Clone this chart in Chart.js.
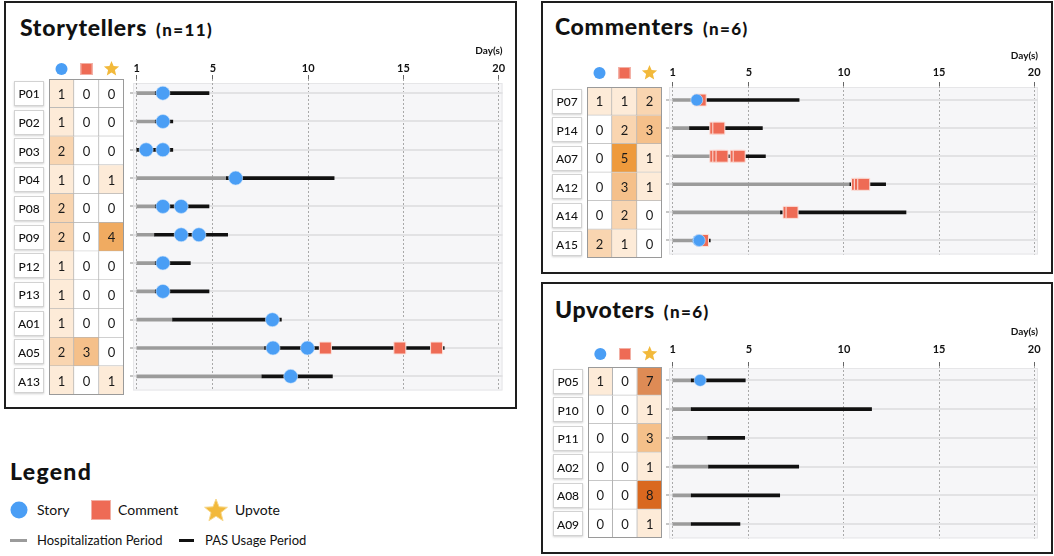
<!DOCTYPE html>
<html lang="en">
<head>
<meta charset="UTF-8">
<title>Storytellers / Commenters / Upvoters</title>
<script src="https://cdn.jsdelivr.net/npm/chart.js"></script>
<style>
  body { margin: 0; width: 1054px; height: 556px; position: relative; overflow: hidden; background: #fff;
         font-family: Lato, "Open Sans", sans-serif; color: #111; }
  .panel { position: absolute; border: 2px solid #1e1e1e; box-sizing: border-box; }
  .title { position: absolute; font-size: 23px; line-height: 23px; font-weight: 900; letter-spacing: 0.7px; white-space: nowrap; }
  .title span { font-size: 17px; font-weight: 900; letter-spacing: 1.4px; margin-left: 9px; }
  canvas { position: absolute; }
  .lg { position: absolute; height: 20px; line-height: 20px; white-space: nowrap; }
  .lg svg { position: absolute; }
</style>
</head>
<body>

<div class="panel" style="left:4px;top:1px;width:513px;height:408px"></div>
<div class="panel" style="left:541px;top:1px;width:512px;height:273px"></div>
<div class="panel" style="left:541px;top:282px;width:512px;height:272px"></div>

<div class="title" style="left:20px;top:16px">Storytellers<span>(n=11)</span></div>
<div class="title" style="left:555px;top:15px">Commenters<span>(n=6)</span></div>
<div class="title" style="left:555px;top:298px">Upvoters<span>(n=6)</span></div>

<canvas id="stTable" width="115" height="342" style="left:12px;top:56px"></canvas>
<canvas id="stTime" width="390" height="364" style="left:122px;top:36px"></canvas>
<canvas id="cmTable" width="117" height="201" style="left:548px;top:60px"></canvas>
<canvas id="cmTime" width="392" height="220" style="left:658px;top:44px"></canvas>
<canvas id="upTable" width="117" height="201" style="left:548px;top:340px"></canvas>
<canvas id="upTime" width="392" height="225" style="left:658px;top:320px"></canvas>

<!-- legend -->
<div class="title" style="left:10px;top:460px;letter-spacing:1.3px">Legend</div>
<div class="lg" style="left:10px;top:500px;font-size:14px">
  <svg width="18" height="18" style="left:0;top:1px"><circle cx="9" cy="9" r="8.5" fill="#4a9ef5"/></svg>
  <span style="position:absolute;left:27px">Story</span>
  <svg width="20" height="20" style="left:81px;top:0"><rect x="0.5" y="0.5" width="19" height="19" fill="#ee6b55" stroke="#f2b0a5"/></svg>
  <span style="position:absolute;left:108px">Comment</span>
  <svg width="26" height="26" style="left:193px;top:-3px"><polygon id="lgStar" fill="#f2b93b" stroke="#f7d88c" stroke-width="1"/></svg>
  <span style="position:absolute;left:225px">Upvote</span>
</div>
<div class="lg" style="left:10px;top:530px;font-size:13px">
  <div style="position:absolute;left:0;top:9px;width:17px;height:3px;background:#9b9b9b"></div>
  <span style="position:absolute;left:27px">Hospitalization Period</span>
  <div style="position:absolute;left:169px;top:9px;width:15px;height:3px;background:#111"></div>
  <span style="position:absolute;left:195px">PAS Usage Period</span>
</div>

<script>
  const FONT = 'Lato, "Open Sans", sans-serif';
  const BLUE = '#4a9ef5';
  const RED = '#ee6b55';
  const GOLD = '#f2b93b';

  const dayTicks = [1, 5, 10, 15, 20];

  // ---- Storytellers ----
  const stIds = ['P01', 'P02', 'P03', 'P04', 'P08', 'P09', 'P12', 'P13', 'A01', 'A05', 'A13'];
  const stStoryCount   = [1, 1, 2, 1, 2, 2, 1, 1, 1, 2, 1];
  const stCommentCount = [0, 0, 0, 0, 0, 0, 0, 0, 0, 3, 0];
  const stUpvoteCount  = [0, 0, 0, 1, 0, 4, 0, 0, 0, 0, 1];
  const stHosp = [[1, 1.97], [1, 1.97], null, [1, 5.7], [1, 1.97], [1, 1.93], [1, 1.97], [1, 1.97], [1, 2.88], [1, 7.71], [1, 7.57]];
  const stPas  = [[1.97, 4.79], [1.97, 2.89], [1, 2.89], [5.7, 11.36], [1.97, 4.79], [1.93, 5.77], [1.97, 3.81], [1.97, 4.79], [2.88, 8.59], [7.71, 17.14], [7.57, 11.27]];
  const stStories = [['P01', 2.37], ['P02', 2.37], ['P03', 1.49], ['P03', 2.37], ['P04', 6.19], ['P08', 2.37], ['P08', 3.33],
                     ['P09', 3.33], ['P09', 4.26], ['P12', 2.37], ['P13', 2.37], ['A01', 8.12], ['A05', 8.15], ['A05', 9.96], ['A13', 9.08]];
  const stComments = [['A05', 10.9], ['A05', 14.81], ['A05', 16.74]];

  // ---- Commenters ----
  const cmIds = ['P07', 'P14', 'A07', 'A12', 'A14', 'A15'];
  const cmStoryCount   = [1, 0, 0, 0, 0, 2];
  const cmCommentCount = [1, 2, 5, 3, 2, 1];
  const cmUpvoteCount  = [2, 3, 1, 1, 0, 0];
  const cmHosp = [[1, 2.05], [1, 1.88], [1, 2.93], [1, 10.31], [1, 6.66], [1, 2.05]];
  const cmPas  = [[2.05, 7.64], [1.88, 5.71], [2.93, 5.87], [10.31, 12.19], [6.66, 13.26], [2.05, 2.97]];
  const cmStories = [['P07', 2.26], ['A15', 2.35], ['A15', 2.39]];
  const cmComments = [['P07', 2.44], ['P14', 3.26], ['P14', 3.42], ['A07', 3.26], ['A07', 3.42], ['A07', 3.59], ['A07', 4.33], ['A07', 4.49],
                      ['A12', 10.71], ['A12', 10.86], ['A12', 11.04], ['A14', 7.11], ['A14', 7.27], ['A15', 2.56]];

  // ---- Upvoters ----
  const upIds = ['P05', 'P10', 'P11', 'A02', 'A08', 'A09'];
  const upStoryCount   = [1, 0, 0, 0, 0, 0];
  const upCommentCount = [0, 0, 0, 0, 0, 0];
  const upUpvoteCount  = [7, 1, 3, 1, 8, 1];
  const upHosp = [[1, 1.97], [1, 1.97], [1, 2.84], [1, 2.88], [1, 1.97], [1, 1.97]];
  const upPas  = [[1.97, 4.81], [1.97, 11.45], [2.84, 4.78], [2.88, 7.62], [1.97, 6.62], [1.97, 4.53]];
  const upStories = [['P05', 2.44]];
  const upComments = [];

  // heat colours for the count cells
  const heat = { 0: '#ffffff', 1: '#fdebd8', 2: '#f9d5b0', 3: '#f5c08a', 4: '#f0ab61', 5: '#ee9a3c', 6: '#e69145', 7: '#de8b55', 8: '#d9681f' };

  function starPath(ctx, cx, cy, R, r) {
    ctx.beginPath();
    for (let i = 0; i < 10; i++) {
      const a = -Math.PI / 2 + i * Math.PI / 5;
      const rad = i % 2 ? r : R;
      ctx.lineTo(cx + rad * Math.cos(a), cy + rad * Math.sin(a));
    }
    ctx.closePath();
  }

  // legend star
  (function () {
    const pts = [];
    for (let i = 0; i < 10; i++) {
      const a = -Math.PI / 2 + i * Math.PI / 5, rad = i % 2 ? 5.2 : 12;
      pts.push((13 + rad * Math.cos(a)).toFixed(2) + ',' + (14 + rad * Math.sin(a)).toFixed(2));
    }
    document.getElementById('lgStar').setAttribute('points', pts.join(' '));
  })();

  function tablePlugin(counts, headerDy) {
    return {
      id: 'tableDecor',
      afterDatasetsDraw(chart) {
        const { ctx, chartArea: ca, scales: { x, y } } = chart;
        ctx.save();
        // outer frame
        ctx.strokeStyle = '#9a9a9a';
        ctx.lineWidth = 1;
        ctx.strokeRect(ca.left + 0.5, ca.top + 0.5, ca.right - ca.left - 1, ca.bottom - ca.top - 1);
        // counts
        ctx.fillStyle = '#1a1a1a';
        ctx.font = '13px ' + FONT;
        ctx.textAlign = 'center';
        ctx.textBaseline = 'middle';
        chart.data.datasets.forEach((ds, di) => {
          chart.getDatasetMeta(di).data.forEach((bar, i) => {
            ctx.fillText(String(counts[di][i]), (bar.x + bar.base) / 2, bar.y + 1);
          });
        });
        // participant boxes
        ctx.font = '500 12px ' + FONT;
        chart.data.labels.forEach((id, i) => {
          const yc = y.getPixelForValue(i);
          const bx = ca.left - 35, by = Math.round(yc - 12.5);
          ctx.save();
          ctx.shadowColor = 'rgba(0,0,0,0.18)';
          ctx.shadowBlur = 2;
          ctx.shadowOffsetY = 1;
          ctx.fillStyle = '#fff';
          ctx.fillRect(bx, by, 30, 25);
          ctx.restore();
          ctx.strokeStyle = '#d2d2d2';
          ctx.strokeRect(bx + 0.5, by + 0.5, 29, 24);
          ctx.fillStyle = '#111';
          ctx.fillText(id, bx + 15, yc + 1);
        });
        // column header icons
        const hy = ca.top - headerDy;
        const c0 = x.getPixelForValue(0.5), c1 = x.getPixelForValue(1.5), c2 = x.getPixelForValue(2.5);
        ctx.fillStyle = BLUE;
        ctx.beginPath(); ctx.arc(c0, hy, 6, 0, Math.PI * 2); ctx.fill();
        ctx.fillStyle = RED;
        ctx.fillRect(c1 - 6, hy - 6, 12, 12);
        ctx.strokeStyle = '#f2b0a5';
        ctx.strokeRect(c1 - 5.5, hy - 5.5, 11, 11);
        ctx.fillStyle = GOLD;
        starPath(ctx, c2, hy, 8, 3.6);
        ctx.fill();
        ctx.restore();
      }
    };
  }

  const bgPlugin = {
    id: 'plotBg',
    beforeDraw(chart, args, opts) {
      const { ctx, chartArea: ca } = chart;
      ctx.save();
      ctx.fillStyle = '#f6f6f8';
      ctx.fillRect(ca.left, ca.top + opts.inset, ca.right - ca.left, ca.bottom - ca.top - opts.inset);
      ctx.strokeStyle = '#e6e6e8';
      ctx.strokeRect(ca.left + 0.5, ca.top + opts.inset + 0.5, ca.right - ca.left - 1, ca.bottom - ca.top - opts.inset - 1);
      ctx.restore();
    }
  };

  function buildPanel(key, ids, counts, hosp, pas, stories, comments, lay) {
    new Chart(document.getElementById(key + 'Table'), {
      type: 'bar',
      data: {
        labels: ids,
        datasets: counts.map(col => ({
          data: ids.map(() => 1),
          backgroundColor: col.map(v => heat[v]),
          borderColor: '#b4b4b4',
          borderWidth: { top: 0, left: 0, right: 1, bottom: 1 },
          borderSkipped: false,
          barPercentage: 1,
          categoryPercentage: 1
        }))
      },
      options: {
        indexAxis: 'y',
        responsive: false,
        animation: false,
        events: [],
        layout: { padding: lay.tablePad },
        plugins: { legend: { display: false }, tooltip: { enabled: false } },
        scales: {
          x: { stacked: true, min: 0, max: 3, display: false },
          y: { stacked: true, display: false }
        }
      },
      plugins: [tablePlugin(counts, lay.headerDy)]
    });

    new Chart(document.getElementById(key + 'Time'), {
      type: 'bar',
      data: {
        labels: ids,
        datasets: [
          { type: 'scatter', label: 'Story', data: stories.map(([id, d]) => ({ x: d, y: id })),
            pointStyle: 'circle', pointRadius: lay.dotR, backgroundColor: BLUE, borderColor: '#cfe4fb', borderWidth: 0.6, order: 0 },
          { type: 'scatter', label: 'Comment', data: comments.map(([id, d]) => ({ x: d, y: id })),
            pointStyle: 'rect', pointRadius: 8.5, backgroundColor: RED, borderColor: '#fbe3de', borderWidth: 1, order: 1 },
          { label: 'PAS Usage Period', data: pas, backgroundColor: '#111', barThickness: 3, grouped: false, order: 2 },
          { label: 'Hospitalization Period', data: hosp, backgroundColor: '#9b9b9b', barThickness: 3, grouped: false, order: 3 }
        ]
      },
      options: {
        indexAxis: 'y',
        responsive: false,
        animation: false,
        events: [],
        layout: { padding: lay.timePad },
        plugins: { legend: { display: false }, tooltip: { enabled: false }, plotBg: { inset: lay.bgInset } },
        scales: {
          x: {
            type: 'linear', position: 'top', min: 0.8, max: 20.2,
            afterBuildTicks: s => { s.ticks = dayTicks.map(v => ({ value: v })); },
            afterFit: s => { s.height = lay.axisH; },
            ticks: { font: { family: FONT, size: 11, weight: 'bold' }, color: '#111', padding: lay.tickPad, maxRotation: 0, autoSkip: false },
            grid: { color: '#a9a9a9', lineWidth: 1, drawTicks: true, tickLength: 4, tickColor: '#666', tickWidth: 1 },
            border: { display: false, dash: [2, 2] },
            title: { display: true, text: 'Day(s)', align: 'end', color: '#111',
                     font: { family: FONT, size: 10, weight: 'bold' }, padding: { top: 0, bottom: 0 } }
          },
          y: {
            type: 'category', offset: true,
            afterFit: s => { s.width = 3; },
            ticks: { display: false },
            grid: { offset: false, color: '#e2e2e4', lineWidth: 2, drawTicks: true, tickLength: 3, tickColor: '#c6c6c6' },
            border: { display: false }
          }
        }
      },
      plugins: [bgPlugin]
    });
  }

  buildPanel('st', stIds, [stStoryCount, stCommentCount, stUpvoteCount], stHosp, stPas, stStories, stComments, {
    tablePad: { left: 37, top: 23, right: 3, bottom: 3 }, headerDy: 10,
    timePad: { left: 8, right: 9, top: 9, bottom: 5 }, axisH: 34, tickPad: 0, bgInset: 4, dotR: 7
  });
  buildPanel('cm', cmIds, [cmStoryCount, cmCommentCount, cmUpvoteCount], cmHosp, cmPas, cmStories, cmComments, {
    tablePad: { left: 39, top: 27, right: 3, bottom: 3 }, headerDy: 14,
    timePad: { left: 8, right: 12, top: 6, bottom: 5 }, axisH: 36, tickPad: 3, bgInset: 1, dotR: 6
  });
  buildPanel('up', upIds, [upStoryCount, upCommentCount, upUpvoteCount], upHosp, upPas, upStories, upComments, {
    tablePad: { left: 40, top: 27, right: 3, bottom: 3 }, headerDy: 13,
    timePad: { left: 8, right: 12, top: 6, bottom: 6 }, axisH: 40, tickPad: 6, bgInset: 2, dotR: 6
  });
</script>

</body>
</html>
